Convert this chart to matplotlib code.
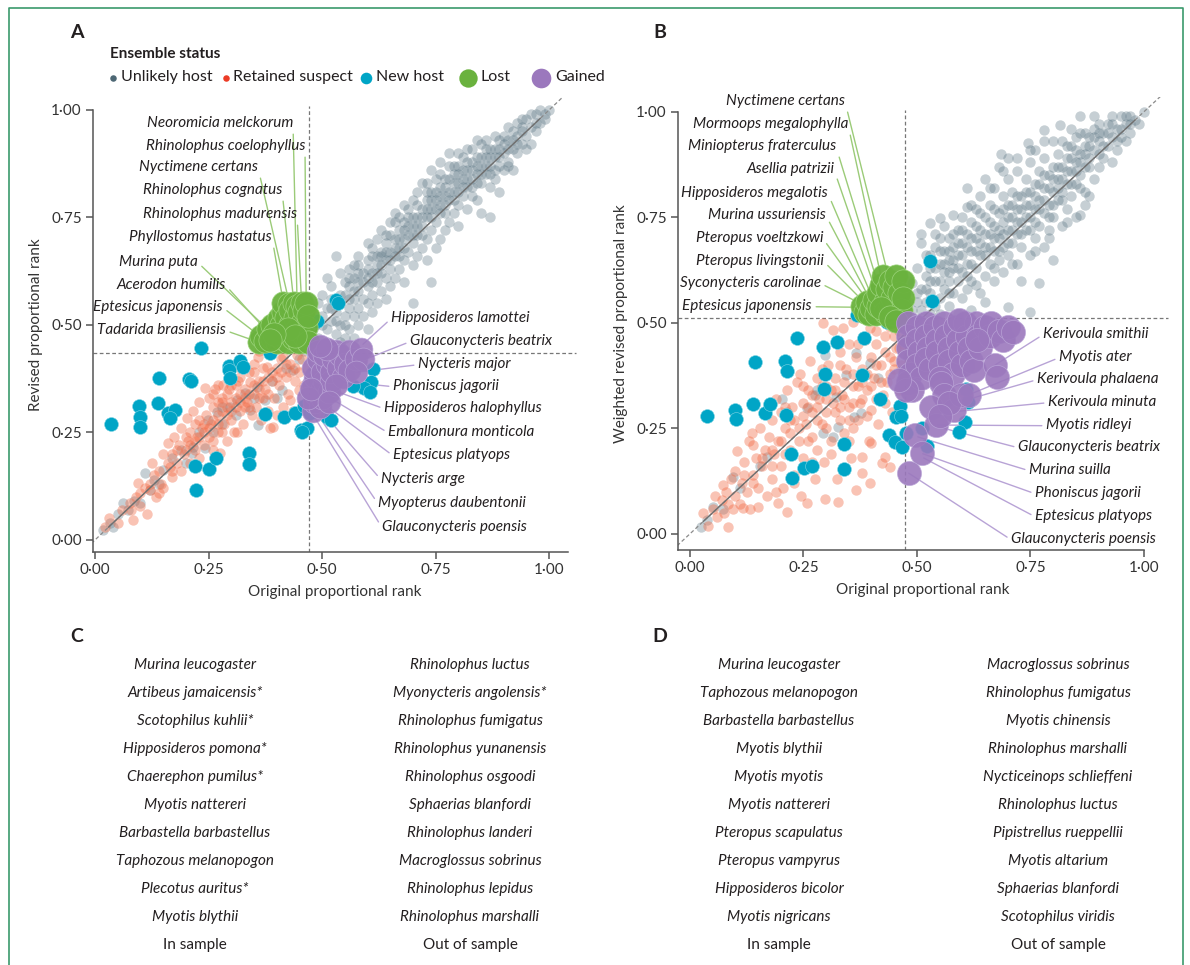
import matplotlib
matplotlib.use("Agg")
import numpy as np
import matplotlib.pyplot as plt

plt.rcParams['font.family'] = ['Lato', 'DejaVu Sans']

# ---------------- data: panel A ----------------
unlikely_a = [
    (0.46,0.44),(0.47,0.47),(0.47,0.51),(0.48,0.45),(0.48,0.49),(0.48,0.53),(0.49,0.47),(0.49,0.55),(0.50,0.44),(0.50,0.50),(0.50,0.52),(0.50,0.57),
    (0.51,0.46),(0.51,0.49),(0.51,0.54),(0.51,0.61),(0.52,0.45),(0.52,0.51),(0.52,0.56),(0.52,0.59),(0.53,0.48),(0.53,0.53),(0.53,0.66),(0.54,0.46),
    (0.54,0.50),(0.54,0.55),(0.54,0.62),(0.55,0.47),(0.55,0.52),(0.55,0.57),(0.55,0.60),
    (0.56,0.49),(0.56,0.54),(0.56,0.59),(0.56,0.63),(0.57,0.47),(0.57,0.52),(0.57,0.56),(0.57,0.61),(0.58,0.50),(0.58,0.54),(0.58,0.58),(0.58,0.64),
    (0.58,0.66),(0.59,0.52),(0.59,0.56),(0.59,0.60),(0.60,0.49),(0.60,0.55),(0.60,0.59),(0.60,0.63),(0.60,0.69),
    (0.61,0.53),(0.61,0.57),(0.61,0.62),(0.61,0.66),(0.62,0.55),(0.62,0.60),(0.62,0.64),(0.62,0.70),(0.63,0.58),(0.63,0.62),(0.63,0.67),(0.63,0.72),
    (0.64,0.56),(0.64,0.61),(0.64,0.65),(0.64,0.69),(0.65,0.59),(0.65,0.63),(0.65,0.67),(0.65,0.74),
    (0.66,0.61),(0.66,0.66),(0.66,0.70),(0.66,0.76),(0.67,0.63),(0.67,0.68),(0.67,0.72),(0.67,0.75),(0.68,0.60),(0.68,0.65),(0.68,0.70),(0.68,0.74),
    (0.69,0.67),(0.69,0.71),(0.69,0.77),(0.70,0.55),(0.70,0.64),(0.70,0.69),(0.70,0.73),(0.70,0.79),
    (0.71,0.66),(0.71,0.71),(0.71,0.75),(0.71,0.81),(0.72,0.68),(0.72,0.73),(0.72,0.77),(0.73,0.65),(0.73,0.70),(0.73,0.75),(0.73,0.79),(0.73,0.83),
    (0.74,0.60),(0.74,0.72),(0.74,0.77),(0.74,0.81),(0.75,0.68),(0.75,0.74),(0.75,0.79),(0.75,0.84),
    (0.76,0.70),(0.76,0.76),(0.76,0.80),(0.76,0.85),(0.77,0.72),(0.77,0.78),(0.77,0.82),(0.78,0.74),(0.78,0.79),(0.78,0.84),(0.78,0.87),(0.79,0.76),
    (0.79,0.81),(0.79,0.85),(0.80,0.73),(0.80,0.78),(0.80,0.83),(0.80,0.87),
    (0.81,0.80),(0.81,0.84),(0.81,0.89),(0.82,0.77),(0.82,0.82),(0.82,0.86),(0.83,0.80),(0.83,0.84),(0.83,0.88),(0.83,0.91),(0.84,0.79),(0.84,0.85),
    (0.84,0.89),(0.85,0.76),(0.85,0.83),(0.85,0.87),(0.85,0.92),
    (0.86,0.85),(0.86,0.89),(0.86,0.93),(0.87,0.75),(0.87,0.82),(0.87,0.87),(0.87,0.91),(0.88,0.84),(0.88,0.89),(0.88,0.94),(0.89,0.81),(0.89,0.87),
    (0.89,0.91),(0.90,0.86),(0.90,0.90),(0.90,0.94),
    (0.91,0.88),(0.91,0.93),(0.91,0.96),(0.92,0.86),(0.92,0.91),(0.92,0.95),(0.93,0.90),(0.93,0.94),(0.93,0.97),(0.94,0.92),(0.94,0.96),(0.95,0.94),
    (0.95,0.98),(0.96,0.92),(0.96,0.96),(0.97,0.95),(0.97,0.99),(0.98,0.97),(0.99,0.99),(1.00,1.00),(0.95,0.91),
    (0.52,0.54),(0.53,0.51),(0.54,0.57),(0.55,0.50),(0.56,0.56),(0.57,0.58),(0.58,0.60),(0.59,0.62),(0.60,0.61),(0.61,0.60),(0.62,0.62),(0.63,0.64),
    (0.63,0.66),(0.64,0.67),(0.65,0.65),(0.66,0.68),(0.67,0.70),(0.68,0.68),(0.68,0.72),(0.69,0.73),(0.70,0.71),(0.70,0.75),(0.71,0.73),(0.72,0.75),
    (0.72,0.71),(0.73,0.77),(0.74,0.75),(0.74,0.79),(0.75,0.77),(0.75,0.81),(0.76,0.78),(0.76,0.82),(0.77,0.80),(0.77,0.84),(0.78,0.81),(0.79,0.83),
    (0.79,0.87),(0.80,0.85),(0.80,0.81),(0.81,0.86),(0.81,0.82),(0.82,0.84),(0.82,0.88),(0.83,0.86),(0.84,0.87),(0.84,0.83),(0.85,0.89),(0.85,0.85),
    (0.86,0.87),(0.86,0.91),(0.87,0.89),(0.88,0.91),(0.88,0.86),(0.89,0.93),(0.89,0.89),(0.90,0.92),(0.91,0.91),(0.92,0.93),(0.93,0.92),(0.94,0.95),
    (0.94,0.98),(0.96,0.99),(0.97,0.97),(0.98,1.00),(0.99,0.98),(0.66,0.74),(0.64,0.71),(0.62,0.66),(0.60,0.65),(0.58,0.62),(0.57,0.64),(0.56,0.61),
    (0.69,0.75),(0.71,0.78),(0.73,0.81),(0.77,0.76),(0.79,0.79),(0.83,0.82),(0.87,0.85),(0.91,0.87),(0.67,0.66),(0.65,0.71),(0.61,0.68),(0.76,0.88),
    (0.72,0.83),(0.68,0.78),(0.74,0.86),(0.82,0.91),(0.80,0.90),(0.84,0.93),(0.78,0.90),
    (0.018,0.023),(0.033,0.04),(0.04,0.03),(0.062,0.086),(0.073,0.07),(0.085,0.09),(0.099,0.086),(0.11,0.156),(0.121,0.116),(0.13,0.14),(0.15,0.163),
    (0.17,0.19),(0.19,0.21),(0.214,0.202),(0.216,0.216),(0.242,0.214),(0.249,0.279),(0.26,0.25),(0.269,0.298),(0.28,0.309),(0.297,0.309),(0.31,0.29),
    (0.313,0.326),(0.33,0.342),(0.341,0.302),(0.357,0.356),(0.359,0.267),(0.374,0.326),(0.39,0.37),(0.412,0.349),(0.42,0.40),(0.436,0.395),(0.45,0.42),
    (0.23,0.25),(0.20,0.18),(0.14,0.13),(0.05,0.06),(0.28,0.27),(0.40,0.33),(0.35,0.33),
]
retained_a = [
    (0.022,0.03),(0.03,0.05),(0.05,0.04),(0.06,0.07),(0.077,0.085),(0.084,0.047),(0.09,0.10),(0.095,0.132),(0.10,0.08),(0.11,0.12),(0.115,0.06),
    (0.121,0.116),(0.125,0.179),(0.13,0.15),(0.135,0.10),(0.14,0.16),(0.145,0.13),(0.15,0.20),(0.15,0.12),
    (0.161,0.226),(0.165,0.17),(0.17,0.147),(0.17,0.20),(0.175,0.24),(0.18,0.18),(0.185,0.22),(0.19,0.16),(0.19,0.26),(0.195,0.20),(0.202,0.284),
    (0.205,0.23),(0.21,0.179),(0.21,0.25),(0.215,0.30),(0.22,0.21),(0.22,0.27),(0.225,0.24),(0.23,0.32),(0.23,0.19),(0.235,0.26),(0.24,0.22),
    (0.242,0.353),(0.245,0.29),(0.25,0.24),(0.25,0.33),
    (0.255,0.27),(0.26,0.21),(0.26,0.31),(0.265,0.35),(0.27,0.25),(0.27,0.29),(0.275,0.202),(0.28,0.33),(0.282,0.36),(0.285,0.27),(0.29,0.23),
    (0.29,0.31),(0.295,0.35),(0.30,0.28),(0.30,0.38),(0.305,0.25),(0.31,0.33),(0.313,0.251),(0.315,0.37),(0.32,0.30),(0.32,0.40),(0.325,0.27),
    (0.33,0.35),(0.335,0.32),(0.34,0.39),(0.341,0.368),(0.345,0.29),(0.35,0.34),(0.35,0.41),(0.355,0.31),
    (0.359,0.426),(0.36,0.37),(0.365,0.28),(0.37,0.33),(0.37,0.40),(0.375,0.35),(0.379,0.403),(0.38,0.30),(0.385,0.26),(0.385,0.43),(0.39,0.37),
    (0.392,0.263),(0.395,0.33),(0.40,0.40),(0.40,0.29),(0.405,0.36),(0.41,0.42),(0.414,0.426),(0.415,0.31),(0.42,0.38),(0.425,0.34),(0.43,0.41),
    (0.43,0.326),(0.435,0.30),(0.44,0.37),(0.445,0.43),(0.45,0.349),(0.45,0.39),(0.455,0.42),(0.46,0.36),(0.465,0.40),
    (0.26,0.34),(0.27,0.32),(0.28,0.30),(0.29,0.34),(0.30,0.32),(0.31,0.36),(0.32,0.34),(0.33,0.31),(0.24,0.27),(0.23,0.28),(0.20,0.24),(0.18,0.21),
    (0.38,0.44),(0.40,0.445),(0.36,0.44),
    (0.20,0.21),(0.21,0.22),(0.22,0.23),(0.23,0.24),(0.24,0.25),(0.25,0.26),(0.26,0.28),(0.27,0.27),(0.28,0.32),(0.29,0.29),(0.30,0.30),(0.31,0.31),
    (0.32,0.32),(0.33,0.33),(0.34,0.34),(0.35,0.36),(0.36,0.35),(0.37,0.37),(0.38,0.38),(0.39,0.39),(0.40,0.38),(0.41,0.39),(0.42,0.41),(0.43,0.39),
    (0.44,0.40),(0.16,0.18),(0.17,0.16),(0.14,0.11),(0.12,0.13),(0.10,0.11),(0.08,0.07),(0.26,0.23),(0.28,0.25),(0.34,0.31),(0.36,0.33),(0.38,0.34),
    (0.30,0.36),(0.32,0.38),(0.27,0.36),(0.35,0.39),
]
new_a = [
    (0.234,0.447),(0.035,0.27),(0.097,0.312),(0.10,0.286),(0.10,0.263),(0.141,0.377),(0.139,0.319),(0.161,0.296),(0.177,0.302),(0.166,0.283),
    (0.208,0.374),(0.212,0.370),(0.223,0.116),(0.221,0.172),(0.25,0.165),(0.267,0.19),(0.34,0.202),(0.34,0.176),(0.294,0.405),(0.296,0.395),
    (0.298,0.376),(0.32,0.417),(0.325,0.403),(0.375,0.293),(0.417,0.287),(0.441,0.295),(0.461,0.312),(0.474,0.295),(0.453,0.256),(0.466,0.26),
    (0.51,0.286),(0.52,0.28),(0.613,0.397),(0.608,0.367),(0.592,0.353),(0.605,0.345),(0.567,0.358),(0.53,0.558),(0.535,0.55),(0.488,0.51),
    (0.386,0.435),(0.455,0.25),
]
lost_a = [
    (0.36,0.46),(0.365,0.475),(0.375,0.462),(0.38,0.49),(0.39,0.47),(0.39,0.50),(0.40,0.46),(0.40,0.485),(0.405,0.515),(0.41,0.47),(0.41,0.50),
    (0.415,0.53),(0.415,0.55),(0.42,0.48),(0.42,0.515),(0.425,0.46),(0.428,0.548),(0.43,0.50),(0.43,0.535),(0.435,0.47),(0.438,0.55),(0.44,0.515),
    (0.445,0.545),(0.445,0.49),(0.45,0.53),(0.45,0.46),(0.455,0.55),(0.455,0.505),(0.46,0.475),(0.46,0.535),(0.465,0.55),(0.465,0.495),(0.47,0.46),
    (0.47,0.52),(0.425,0.49),(0.44,0.475),(0.395,0.48),(0.385,0.465),
]
gained_a = [
    (0.48,0.30),(0.482,0.32),(0.485,0.34),(0.48,0.36),(0.485,0.38),(0.48,0.40),(0.49,0.42),(0.49,0.44),(0.495,0.31),(0.50,0.33),(0.50,0.35),
    (0.505,0.37),(0.50,0.39),(0.51,0.41),(0.505,0.43),(0.515,0.345),(0.52,0.37),(0.52,0.39),(0.525,0.42),(0.53,0.44),(0.535,0.40),(0.54,0.43),
    (0.545,0.38),(0.55,0.41),(0.56,0.44),(0.56,0.395),(0.575,0.42),(0.585,0.445),(0.59,0.42),(0.575,0.39),(0.51,0.445),(0.495,0.45),(0.47,0.33),
    (0.475,0.35),(0.53,0.36),(0.515,0.32),
]
lost_a_names = ["Neoromicia melckorum", "Rhinolophus coelophyllus", "Nyctimene certans", "Rhinolophus cognatus",
                "Rhinolophus madurensis", "Phyllostomus hastatus", "Murina puta", "Acerodon humilis",
                "Eptesicus japonensis", "Tadarida brasiliensis"]
lost_a_targets = [(0.445,0.55),(0.465,0.55),(0.428,0.55),(0.438,0.55),(0.455,0.55),(0.415,0.55),
                  (0.38,0.49),(0.383,0.48),(0.368,0.47),(0.36,0.46)]
gained_a_names = ["Hipposideros lamottei", "Glauconycteris beatrix", "Nycteris major", "Phoniscus jagorii",
                  "Hipposideros halophyllus", "Emballonura monticola", "Eptesicus platyops", "Nycteris arge",
                  "Myopterus daubentonii", "Glauconycteris poensis"]
gained_a_targets = [(0.59,0.455),(0.595,0.42),(0.575,0.39),(0.53,0.37),(0.52,0.35),(0.51,0.335),(0.50,0.32),
                    (0.49,0.31),(0.485,0.30),(0.478,0.295)]

# ---------------- data: panel B ----------------
unlikely_b = [
    (0.47,0.52),(0.48,0.55),(0.48,0.60),(0.49,0.53),(0.49,0.595),(0.50,0.51),(0.50,0.57),(0.50,0.63),(0.50,0.55),
    (0.51,0.69),(0.51,0.71),(0.51,0.53),(0.51,0.58),(0.52,0.55),(0.52,0.61),(0.52,0.66),(0.53,0.52),(0.53,0.737),(0.53,0.57),(0.53,0.63),
    (0.54,0.54),(0.54,0.60),(0.54,0.68),(0.55,0.749),(0.55,0.52),(0.55,0.56),(0.55,0.64),(0.55,0.70),
    (0.56,0.58),(0.56,0.62),(0.56,0.67),(0.56,0.73),(0.57,0.54),(0.57,0.60),(0.57,0.65),(0.57,0.70),(0.58,0.756),(0.58,0.57),(0.58,0.63),
    (0.58,0.68),(0.59,0.52),(0.59,0.60),(0.59,0.66),(0.59,0.72),(0.60,0.56),(0.60,0.62),(0.60,0.69),(0.60,0.75),
    (0.61,0.82),(0.61,0.775),(0.61,0.58),(0.61,0.64),(0.61,0.71),(0.62,0.60),(0.62,0.67),(0.62,0.74),(0.62,0.53),(0.63,0.63),(0.63,0.70),
    (0.63,0.77),(0.64,0.57),(0.64,0.66),(0.64,0.72),(0.64,0.80),(0.65,0.61),(0.65,0.68),(0.65,0.75),(0.65,0.84),(0.65,0.55),
    (0.66,0.64),(0.66,0.71),(0.66,0.78),(0.67,0.60),(0.67,0.67),(0.67,0.73),(0.67,0.82),(0.68,0.65),(0.68,0.70),(0.68,0.76),(0.68,0.87),
    (0.685,0.90),(0.69,0.62),(0.69,0.68),(0.69,0.74),(0.69,0.80),(0.70,0.89),(0.70,0.538),(0.70,0.66),(0.70,0.72),(0.70,0.78),(0.70,0.84),
    (0.71,0.69),(0.71,0.75),(0.71,0.81),(0.72,0.64),(0.72,0.71),(0.72,0.77),(0.72,0.86),(0.73,0.68),(0.73,0.74),(0.73,0.80),(0.73,0.60),
    (0.74,0.72),(0.74,0.78),(0.74,0.84),(0.745,0.925),(0.75,0.526),(0.75,0.66),(0.75,0.75),(0.75,0.81),(0.75,0.88),
    (0.76,0.70),(0.76,0.77),(0.76,0.83),(0.76,0.91),(0.77,0.595),(0.77,0.73),(0.77,0.79),(0.77,0.86),(0.78,0.957),(0.78,0.68),(0.78,0.76),
    (0.78,0.82),(0.78,0.89),(0.79,0.72),(0.79,0.78),(0.79,0.85),(0.80,0.65),(0.80,0.75),(0.80,0.81),(0.80,0.87),(0.80,0.93),
    (0.81,0.79),(0.81,0.84),(0.81,0.90),(0.815,0.968),(0.82,0.73),(0.82,0.81),(0.82,0.87),(0.82,0.93),(0.83,0.77),(0.83,0.83),(0.83,0.89),
    (0.84,0.80),(0.84,0.86),(0.84,0.92),(0.84,0.96),(0.85,0.75),(0.85,0.83),(0.85,0.88),(0.85,0.94),
    (0.86,0.99),(0.86,0.756),(0.86,0.85),(0.86,0.90),(0.86,0.95),(0.87,0.81),(0.87,0.87),(0.87,0.92),(0.88,0.80),(0.88,0.89),(0.88,0.94),
    (0.89,0.99),(0.89,0.84),(0.89,0.91),(0.89,0.96),(0.90,0.87),(0.90,0.93),(0.90,0.97),
    (0.91,0.89),(0.91,0.95),(0.92,0.92),(0.92,0.97),(0.93,0.94),(0.93,0.99),(0.94,0.91),(0.94,0.96),(0.95,0.94),(0.95,0.99),(0.96,0.97),
    (0.97,0.95),(0.97,0.99),(0.98,0.98),(0.99,0.97),(1.00,1.00),(0.96,0.93),(0.93,0.88),
    (0.52,0.58),(0.53,0.60),(0.54,0.63),(0.55,0.60),(0.56,0.64),(0.57,0.62),(0.57,0.67),(0.58,0.65),(0.59,0.63),(0.59,0.69),(0.60,0.66),
    (0.61,0.68),(0.62,0.64),(0.62,0.70),(0.63,0.67),(0.63,0.73),(0.64,0.69),(0.65,0.71),(0.65,0.66),(0.66,0.68),(0.66,0.74),(0.67,0.70),
    (0.67,0.77),(0.68,0.72),(0.68,0.67),(0.69,0.71),(0.69,0.77),(0.70,0.75),(0.70,0.69),(0.71,0.72),(0.71,0.78),(0.72,0.74),(0.72,0.80),
    (0.73,0.77),(0.73,0.71),(0.74,0.75),(0.74,0.81),(0.75,0.78),(0.75,0.72),(0.76,0.80),(0.76,0.74),(0.77,0.77),(0.77,0.83),(0.78,0.79),
    (0.78,0.85),(0.79,0.82),(0.79,0.75),(0.80,0.84),(0.80,0.78),(0.81,0.82),(0.81,0.87),(0.82,0.84),(0.82,0.79),(0.83,0.86),(0.83,0.92),
    (0.84,0.83),(0.84,0.89),(0.85,0.86),(0.85,0.91),(0.86,0.88),(0.86,0.82),(0.87,0.90),(0.87,0.95),(0.88,0.87),(0.88,0.92),(0.89,0.94),
    (0.90,0.90),(0.90,0.95),(0.91,0.92),(0.92,0.95),(0.93,0.97),(0.94,0.93),(0.95,0.96),(0.96,0.99),(0.97,0.97),(0.62,0.78),(0.66,0.82),
    (0.69,0.86),(0.72,0.89),(0.75,0.91),(0.78,0.93),(0.64,0.76),(0.60,0.72),(0.58,0.71),(0.55,0.67),(0.53,0.66),(0.71,0.64),(0.76,0.67),
    (0.79,0.70),(0.83,0.74),(0.87,0.78),(0.57,0.57),(0.61,0.61),(0.54,0.71),(0.63,0.59),(0.67,0.63),
    (0.024,0.017),(0.037,0.033),(0.05,0.064),(0.073,0.06),(0.095,0.135),(0.11,0.11),(0.154,0.16),(0.17,0.183),(0.203,0.32),(0.213,0.29),
    (0.28,0.34),(0.293,0.238),(0.315,0.23),(0.326,0.254),(0.323,0.325),(0.345,0.377),(0.362,0.278),(0.378,0.286),(0.385,0.377),(0.396,0.405),
    (0.415,0.37),(0.297,0.424),(0.301,0.345),(0.367,0.428),(0.258,0.298),(0.275,0.33),
]
retained_b = [
    (0.03,0.05),(0.04,0.02),(0.05,0.06),(0.055,0.09),(0.06,0.04),(0.07,0.08),(0.073,0.116),(0.075,0.05),(0.08,0.10),(0.084,0.017),(0.085,0.07),
    (0.09,0.13),(0.095,0.06),(0.10,0.09),(0.10,0.15),
    (0.103,0.197),(0.11,0.07),(0.115,0.12),(0.117,0.061),(0.12,0.17),(0.125,0.10),(0.13,0.22),(0.132,0.059),(0.137,0.239),(0.139,0.21),
    (0.14,0.14),(0.145,0.18),(0.15,0.064),(0.15,0.11),(0.155,0.25),(0.16,0.16),(0.165,0.20),(0.17,0.09),(0.175,0.23),(0.18,0.13),(0.18,0.27),
    (0.185,0.19),(0.19,0.32),(0.194,0.073),(0.195,0.22),(0.20,0.16),(0.20,0.29),
    (0.205,0.11),(0.21,0.25),(0.213,0.052),(0.215,0.34),(0.22,0.20),(0.225,0.30),(0.23,0.14),(0.23,0.27),(0.235,0.36),(0.24,0.22),(0.242,0.38),
    (0.245,0.09),(0.25,0.31),(0.25,0.18),(0.255,0.26),(0.258,0.073),(0.26,0.34),(0.265,0.41),(0.27,0.23),(0.27,0.29),(0.275,0.13),(0.28,0.37),
    (0.28,0.20),(0.285,0.32),(0.29,0.44),(0.29,0.26),(0.293,0.50),(0.295,0.17),(0.297,0.083),(0.30,0.35),(0.30,0.29),
    (0.305,0.40),(0.31,0.22),(0.315,0.483),(0.315,0.31),(0.32,0.37),(0.325,0.13),(0.326,0.076),(0.33,0.27),(0.33,0.43),(0.335,0.33),
    (0.337,0.488),(0.34,0.24),(0.345,0.39),(0.35,0.45),(0.35,0.30),(0.355,0.18),(0.359,0.502),(0.36,0.35),(0.365,0.42),(0.367,0.104),
    (0.37,0.27),(0.375,0.31),(0.379,0.144),(0.379,0.183),(0.38,0.39),(0.385,0.46),(0.39,0.34),(0.395,0.22),(0.396,0.121),(0.396,0.488),
    (0.40,0.294),(0.40,0.215),(0.40,0.42),
    (0.405,0.37),(0.41,0.45),(0.415,0.26),(0.42,0.40),(0.423,0.168),(0.425,0.33),(0.43,0.183),(0.43,0.47),(0.435,0.36),(0.44,0.159),
    (0.44,0.42),(0.445,0.29),(0.45,0.39),(0.455,0.44),(0.46,0.34),(0.46,0.48),(0.465,0.40),(0.47,0.37),(0.47,0.45),(0.41,0.32),(0.36,0.25),
    (0.25,0.28),(0.27,0.33),(0.30,0.32),(0.32,0.34),(0.34,0.36),(0.36,0.38),(0.38,0.36),(0.28,0.30),(0.22,0.24),(0.18,0.20),(0.33,0.30),
    (0.29,0.35),
    (0.12,0.14),(0.14,0.12),(0.16,0.18),(0.18,0.16),(0.20,0.22),(0.21,0.19),(0.22,0.27),(0.24,0.25),(0.26,0.22),(0.26,0.30),(0.28,0.27),
    (0.30,0.25),(0.31,0.34),(0.32,0.29),(0.34,0.32),(0.35,0.27),(0.36,0.31),(0.37,0.35),(0.38,0.32),(0.39,0.38),(0.40,0.35),(0.41,0.40),
    (0.42,0.36),(0.43,0.43),(0.44,0.38),(0.45,0.41),(0.46,0.44),(0.43,0.31),(0.39,0.28),(0.35,0.22),(0.31,0.19),(0.27,0.17),(0.23,0.12),
    (0.19,0.10),(0.33,0.40),(0.37,0.45),(0.41,0.48),(0.29,0.39),(0.25,0.35),(0.21,0.30),(0.48,0.42),(0.48,0.47),(0.45,0.47),(0.44,0.49),
]
new_b = [
    (0.037,0.28),(0.099,0.294),(0.101,0.272),(0.139,0.308),(0.143,0.408),(0.165,0.287),(0.176,0.308),(0.209,0.41),(0.213,0.386),(0.211,0.282),
    (0.235,0.464),(0.223,0.19),(0.226,0.133),(0.251,0.156),(0.27,0.161),(0.293,0.443),(0.297,0.379),(0.295,0.343),(0.324,0.455),(0.339,0.213),
    (0.339,0.154),(0.383,0.464),(0.379,0.377),(0.418,0.32),(0.434,0.502),(0.368,0.519),(0.462,0.303),(0.454,0.277),(0.465,0.28),(0.438,0.235),
    (0.452,0.218),(0.467,0.206),(0.476,0.239),(0.511,0.251),(0.522,0.209),(0.606,0.265),(0.593,0.242),(0.612,0.313),(0.608,0.343),
    (0.53,0.647),(0.533,0.552),
]
lost_b = [
    (0.38,0.54),(0.385,0.525),(0.39,0.55),(0.395,0.52),(0.40,0.535),(0.405,0.555),(0.41,0.52),(0.415,0.54),(0.415,0.57),(0.42,0.59),(0.425,0.61),
    (0.43,0.55),(0.43,0.525),(0.435,0.58),(0.44,0.60),(0.44,0.54),(0.445,0.56),(0.45,0.52),(0.45,0.585),(0.455,0.61),(0.46,0.545),(0.46,0.57),
    (0.465,0.53),(0.47,0.60),(0.47,0.56),(0.42,0.535),(0.44,0.515),(0.455,0.505),
]
gained_b = [
    (0.48,0.50),(0.48,0.47),(0.48,0.44),(0.48,0.41),(0.485,0.38),(0.48,0.36),(0.49,0.34),(0.50,0.49),(0.50,0.46),(0.505,0.43),(0.50,0.40),
    (0.51,0.37),(0.52,0.50),(0.52,0.47),(0.525,0.44),(0.52,0.415),(0.53,0.39),(0.54,0.49),(0.545,0.46),(0.545,0.43),(0.55,0.40),(0.56,0.50),
    (0.565,0.47),(0.57,0.44),(0.57,0.41),(0.58,0.38),(0.585,0.49),(0.59,0.46),(0.595,0.43),(0.60,0.40),(0.605,0.50),(0.61,0.47),(0.615,0.44),
    (0.62,0.41),(0.626,0.389),(0.63,0.50),(0.635,0.47),(0.64,0.44),(0.65,0.49),(0.66,0.47),(0.663,0.50),(0.672,0.40),(0.676,0.372),(0.68,0.48),
    (0.69,0.46),(0.70,0.49),(0.711,0.479),(0.632,0.46),(0.593,0.507),(0.55,0.37),
    (0.476,0.341),(0.46,0.365),(0.553,0.358),(0.56,0.33),(0.531,0.301),(0.542,0.258),(0.581,0.294),(0.597,0.329),(0.57,0.31),(0.55,0.28),
    (0.615,0.33),(0.496,0.235),(0.511,0.192),(0.482,0.144),
]
lost_b_names = ["Nyctimene certans", "Mormoops megalophylla", "Miniopterus fraterculus", "Asellia patrizii",
                "Hipposideros megalotis", "Murina ussuriensis", "Pteropus voeltzkowi", "Pteropus livingstonii",
                "Syconycteris carolinae", "Eptesicus japonensis"]
lost_b_targets = [(0.435,0.62),(0.42,0.615),(0.412,0.60),(0.405,0.59),(0.396,0.575),(0.392,0.565),(0.388,0.558),
                  (0.381,0.552),(0.372,0.548),(0.368,0.537)]
gained_b_names = ["Kerivoula smithii", "Myotis ater", "Kerivoula phalaena", "Kerivoula minuta", "Myotis ridleyi",
                  "Glauconycteris beatrix", "Murina suilla", "Phoniscus jagorii", "Eptesicus platyops",
                  "Glauconycteris poensis"]
gained_b_targets = [(0.672,0.40),(0.615,0.33),(0.61,0.318),(0.586,0.29),(0.546,0.258),(0.56,0.25),(0.502,0.23),
                    (0.513,0.19),(0.515,0.18),(0.482,0.144)]

# ---------------- data: panels C and D ----------------
c_in = ["Murina leucogaster", "Artibeus jamaicensis*", "Scotophilus kuhlii*", "Hipposideros pomona*", "Chaerephon pumilus*",
        "Myotis nattereri", "Barbastella barbastellus", "Taphozous melanopogon", "Plecotus auritus*", "Myotis blythii"]
c_out = ["Rhinolophus luctus", "Myonycteris angolensis*", "Rhinolophus fumigatus", "Rhinolophus yunanensis", "Rhinolophus osgoodi",
         "Sphaerias blanfordi", "Rhinolophus landeri", "Macroglossus sobrinus", "Rhinolophus lepidus", "Rhinolophus marshalli"]
d_in = ["Murina leucogaster", "Taphozous melanopogon", "Barbastella barbastellus", "Myotis blythii", "Myotis myotis",
        "Myotis nattereri", "Pteropus scapulatus", "Pteropus vampyrus", "Hipposideros bicolor", "Myotis nigricans"]
d_out = ["Macroglossus sobrinus", "Rhinolophus fumigatus", "Myotis chinensis", "Rhinolophus marshalli", "Nycticeinops schlieffeni",
         "Rhinolophus luctus", "Pipistrellus rueppellii", "Myotis altarium", "Sphaerias blanfordi", "Scotophilus viridis"]

ticks = [0, 0.25, 0.5, 0.75, 1.0]
tick_labels = ["0·00", "0·25", "0·50", "0·75", "1·00"]

# ---------------- styles ----------------
C_UNL, C_RET, C_NEW, C_LOST, C_GAIN = "#5d7785", "#f26a45", "#00a5c6", "#6ab23e", "#9b78bd"
LINE_GREEN, LINE_PURPLE = "#9bcb78", "#b8a3d6"
TXT = "#231f20"

W, H = 1190, 965
fig = plt.figure(figsize=(W / 100, H / 100), dpi=100)


def make_axes(x0, x1, y0, y1):
    return fig.add_axes([x0 / W, 1 - y1 / H, (x1 - x0) / W, (y1 - y0) / H])


def draw_panel(ax, xlim, ylim, xbound, vline, hline, vtop, unl, ret, new, lost, gain, ylabel, s_gain):
    ax.set_xlim(*xlim)
    ax.set_ylim(*ylim)
    for sp in ("top", "right"):
        ax.spines[sp].set_visible(False)
    for sp in ("left", "bottom"):
        ax.spines[sp].set_color("#555555")
        ax.spines[sp].set_linewidth(1.1)
    ax.spines["bottom"].set_bounds(xlim[0], xbound)
    ax.spines["left"].set_bounds(ylim[0], 1.0)
    ax.set_xticks(ticks, tick_labels)
    ax.set_yticks(ticks, tick_labels)
    ax.tick_params(length=5, width=1.1, color="#555555", labelsize=11, labelcolor="#333333", pad=3)
    ax.set_xlabel("Original proportional rank", fontsize=11, color="#333333", labelpad=6)
    ax.set_ylabel(ylabel, fontsize=11, color="#333333", labelpad=6)

    ux, uy = np.array(unl).T
    ax.scatter(ux, uy, s=56, color=C_UNL, alpha=0.35, lw=0, zorder=2)
    rx, ry = np.array(ret).T
    ax.scatter(rx, ry, s=56, color=C_RET, alpha=0.4, lw=0, zorder=2)

    ax.plot([ylim[0], xlim[1]], [ylim[0], xlim[1]], color="#8a8a8a", lw=0.9, ls=(0, (3, 2)), zorder=2.5)
    ax.plot([0.03, 0.98], [0.03, 0.98], color="#707070", lw=1.0, zorder=2.6)
    ax.plot([vline, vline], [ylim[0], vtop], color="#777777", lw=0.9, ls=(0, (3, 2)), zorder=1)
    ax.plot([xlim[0], xlim[1]], [hline, hline], color="#777777", lw=0.9, ls=(0, (3, 2)), zorder=1, clip_on=False)

    nx, ny = np.array(new).T
    ax.scatter(nx, ny, s=100, color=C_NEW, edgecolor="#7fd3e3", lw=0.4, zorder=3.5)
    lx, ly = np.array(lost).T
    ax.scatter(lx, ly, s=280, color=C_LOST, edgecolor="#9fd67f", lw=0.5, alpha=0.95, zorder=4)
    gx, gy = np.array(gain).T
    ax.scatter(gx, gy, s=s_gain, color=C_GAIN, edgecolor="#bba6d8", lw=0.5, alpha=0.9, zorder=4)


def add_labels(ax, names, targets, positions, side, color):
    for name, tgt, (px, py) in zip(names, targets, positions):
        ha = "right" if side == "right" else "left"
        ax.annotate(name, xy=tgt, xytext=(px, H - py), textcoords="figure pixels",
                    ha=ha, va="center", fontsize=11, style="italic", color=TXT, zorder=3,
                    annotation_clip=False,
                    arrowprops=dict(arrowstyle="-", color=color, lw=1.0, shrinkA=1, shrinkB=0,
                                    relpos=(1, 0.45) if ha == "right" else (0, 0.45)))


# panel A: data x px = 95 + 454*x ; y px = 540 - 430*y
axA = make_axes(93, 576, 97, 552)
draw_panel(axA, (-0.0044, 1.059), (-0.028, 1.03), 1.042, 0.472, 0.435, 1.01,
           unlikely_a, retained_a, new_a, lost_a, gained_a, "Revised proportional rank", 270)
lost_a_pos = [(293, 123), (305, 146), (258, 167), (282, 190), (297, 214), (272, 237), (198, 262), (226, 285), (223, 307), (226, 330)]
gained_a_pos = [(391, 318), (410, 341), (418, 364), (393, 386), (384, 408), (388, 432), (393, 455), (381, 479), (378, 503), (382, 527)]
add_labels(axA, lost_a_names, lost_a_targets, lost_a_pos, "right", LINE_GREEN)
add_labels(axA, gained_a_names, gained_a_targets, gained_a_pos, "left", LINE_PURPLE)

# panel B: data x px = 690 + 454*x ; y px = 534 - 422*y
axB = make_axes(678, 1168, 97, 550)
draw_panel(axB, (-0.026, 1.053), (-0.038, 1.035), 1.0, 0.474, 0.512, 1.005,
           unlikely_b, retained_b, new_b, lost_b, gained_b, "Weighted revised proportional rank", 300)
lost_b_pos = [(845, 101), (848, 124), (836, 146), (834, 169), (828, 193), (826, 215), (823, 238), (824, 261), (821, 283), (812, 306)]
gained_b_pos = [(1043, 334), (1059, 357), (1037, 379), (1048, 402), (1046, 425), (1018, 447), (1029, 470), (1035, 493), (1035, 516), (1011, 539)]
add_labels(axB, lost_b_names, lost_b_targets, lost_b_pos, "right", LINE_GREEN)
add_labels(axB, gained_b_names, gained_b_targets, gained_b_pos, "left", LINE_PURPLE)

# overlay in pixel coordinates for legend, letters, lists and border
ov = fig.add_axes([0, 0, 1, 1], zorder=10)
ov.set_xlim(0, W)
ov.set_ylim(H, 0)
ov.axis("off")
ov.patch.set_visible(False)

for letter, (px, py) in zip("ABCD", [(77, 32), (660, 32), (77, 637), (660, 637)]):
    ov.text(px, py, letter, fontsize=14, fontweight="bold", color=TXT, ha="center", va="center")

ov.text(110, 54, "Ensemble status", fontsize=11, fontweight="bold", color=TXT, ha="left", va="center")
legend_items = [("Unlikely host", "#4d6774", 22, 113, 121), ("Retained suspect", "#ec3b26", 22, 226, 233),
                ("New host", C_NEW, 70, 366, 376), ("Lost", C_LOST, 175, 468, 481), ("Gained", C_GAIN, 200, 541, 555)]
for name, col, size, mx, tx in legend_items:
    ov.scatter([mx], [78], s=size, color=col, lw=0)
    ov.text(tx, 77, name, fontsize=11.5, color=TXT, ha="left", va="center")

row_y = [665 + 28 * i for i in range(10)]
for names, cx in [(c_in, 195), (c_out, 470), (d_in, 779), (d_out, 1058)]:
    for name, y in zip(names, row_y):
        ov.text(cx, y, name, fontsize=11, style="italic", color=TXT, ha="center", va="center")
for name, cx in [("In sample", 195), ("Out of sample", 470), ("In sample", 779), ("Out of sample", 1058)]:
    ov.text(cx, 945, name, fontsize=11, color=TXT, ha="center", va="center")

border = "#3b9a6c"
ov.plot([9, 9, 1183, 1183], [H, 8, 8, H], color=border, lw=1.2, clip_on=False)

fig.savefig("out.png", dpi=100)
